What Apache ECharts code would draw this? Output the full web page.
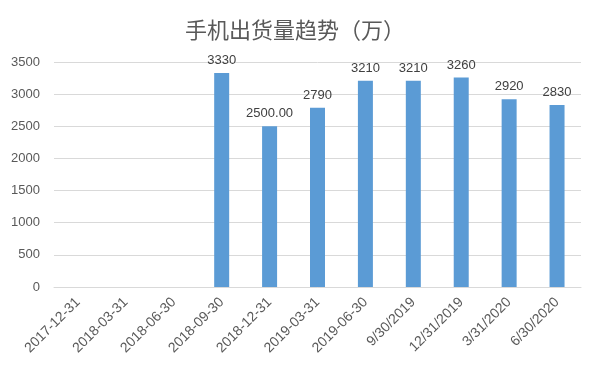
<!DOCTYPE html>
<html><head><meta charset="utf-8">
<script src="https://cdn.jsdelivr.net/npm/echarts@6/dist/echarts.min.js"></script>
<style>html,body{margin:0;padding:0;background:#fff}#c{width:590px;height:369px}</style>
</head><body><div id="c"></div>
<script>
var categories = ['2017-12-31','2018-03-31','2018-06-30','2018-09-30','2018-12-31','2019-03-31','2019-06-30','9/30/2019','12/31/2019','3/31/2020','6/30/2020'];
var values = [null, null, null, 3330, 2500, 2790, 3210, 3210, 3260, 2920, 2830];
var valueLabels = ['', '', '', '3330', '2500.00', '2790', '3210', '3210', '3260', '2920', '2830'];
var yTicks = [0, 500, 1000, 1500, 2000, 2500, 3000, 3500];

var chart = echarts.init(document.getElementById('c'));
chart.setOption({
  animation: false,
  title: {
    text: '手机出货量趋势（万）', left: 'center', top: 14,
    textStyle: { fontFamily: 'Noto Sans CJK SC', fontSize: 22, fontWeight: 'normal', color: '#595959' }
  },
  grid: { left: 54, right: 9, top: 62, bottom: 82 },
  xAxis: {
    type: 'category', data: categories,
    axisLine: { lineStyle: { color: '#d9d9d9' } },
    axisTick: { show: false },
    axisLabel: { rotate: 45, interval: 0, color: '#595959', fontSize: 14, fontFamily: 'Liberation Sans', margin: 13 }
  },
  yAxis: {
    type: 'value', min: yTicks[0], max: yTicks[yTicks.length - 1], interval: 500,
    axisLine: { show: false }, axisTick: { show: false },
    splitLine: { lineStyle: { color: '#d9d9d9' } },
    axisLabel: { color: '#595959', fontSize: 13, fontFamily: 'Liberation Sans', margin: 14,
      formatter: function (v) { return String(v); } }
  },
  series: [{
    type: 'bar', data: values, barWidth: 15,
    itemStyle: { color: '#5B9BD5' },
    label: {
      show: true, position: 'top', distance: 6, color: '#404040', fontSize: 13, fontFamily: 'Liberation Sans',
      formatter: function (p) { return valueLabels[p.dataIndex]; }
    }
  }]
});
</script></body></html>
